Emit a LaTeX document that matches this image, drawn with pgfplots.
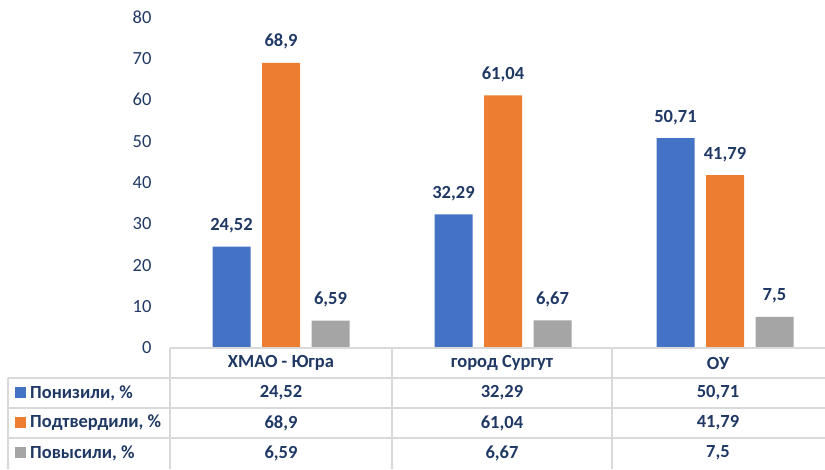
\documentclass[border=0pt]{standalone}
\usepackage{pgfplots}
\pgfplotsset{compat=1.18}
\usepackage{fontspec}
\setmainfont{Carlito}
\definecolor{cblue}{HTML}{4472C4}
\definecolor{corange}{HTML}{ED7D31}
\definecolor{cgray}{HTML}{A5A5A5}
\definecolor{ctext}{HTML}{1F3864}
\definecolor{cgrid}{HTML}{D9D9D9}
\newcommand{\fs}{\fontsize{18.5pt}{21pt}\selectfont}
\begin{document}
\begin{tikzpicture}
\path[use as bounding box] (0pt,0pt) rectangle (825pt,469pt);
\begin{axis}[
  at={(170pt,121pt)}, anchor=south west,
  scale only axis, width=666pt, height=331pt,
  xmin=0, xmax=3, ymin=0, ymax=80,
  axis line style={draw=none},
  major tick length=0pt,
  xtick=\empty,
  ytick={0,10,...,80},
  /pgf/number format/assume math mode=true,
  /pgf/number format/.cd, use comma, 1000 sep={},
  /pgfplots/.cd,
  yticklabel style={font=\fs, text=ctext, xshift=-15pt},
  ybar=11.5pt, bar width=38pt,
  nodes near coords,
  every node near coord/.append style={font=\fs\bfseries, text=ctext, yshift=10pt},
  clip=false,
]
\addplot[draw=none, fill=cblue] coordinates {(0.5,24.52) (1.5,32.29) (2.5,50.71)};
\addplot[draw=none, fill=corange] coordinates {(0.5,68.9) (1.5,61.04) (2.5,41.79)};
\addplot[draw=none, fill=cgray] coordinates {(0.5,6.59) (1.5,6.67) (2.5,7.5)};
\end{axis}
% table grid
\begin{scope}[draw=cgrid, line width=1.6pt]
\draw (170pt,121pt) -- (825pt,121pt);
\draw (8pt,91pt) -- (825pt,91pt);
\draw (8pt,61pt) -- (825pt,61pt);
\draw (8pt,31pt) -- (825pt,31pt);
\draw (8pt,91pt) -- (8pt,0pt);
\draw (170pt,121pt) -- (170pt,0pt);
\draw (392pt,121pt) -- (392pt,0pt);
\draw (612pt,121pt) -- (612pt,0pt);
\end{scope}
\begin{scope}[every node/.style={font=\fs\bfseries, text=ctext, inner sep=0pt}]
\node at (281pt,106pt) {ХМАО - Югра};
\node at (502pt,106pt) {город Сургут};
\node at (718pt,106pt) {ОУ};
\fill[cblue] (15pt,71pt) rectangle (26pt,82pt);
\fill[corange] (15pt,41pt) rectangle (26pt,52pt);
\fill[cgray] (15pt,11pt) rectangle (26pt,22pt);
\node[anchor=west] at (30pt,76pt) {Понизили, \%};
\node[anchor=west] at (30pt,46pt) {Подтвердили, \%};
\node[anchor=west] at (30pt,16pt) {Повысили, \%};
\node at (281pt,76pt) {24,52};
\node at (502pt,76pt) {32,29};
\node at (718pt,76pt) {50,71};
\node at (281pt,46pt) {68,9};
\node at (502pt,46pt) {61,04};
\node at (718pt,46pt) {41,79};
\node at (281pt,16pt) {6,59};
\node at (502pt,16pt) {6,67};
\node at (718pt,16pt) {7,5};
\end{scope}
\end{tikzpicture}
\end{document}
